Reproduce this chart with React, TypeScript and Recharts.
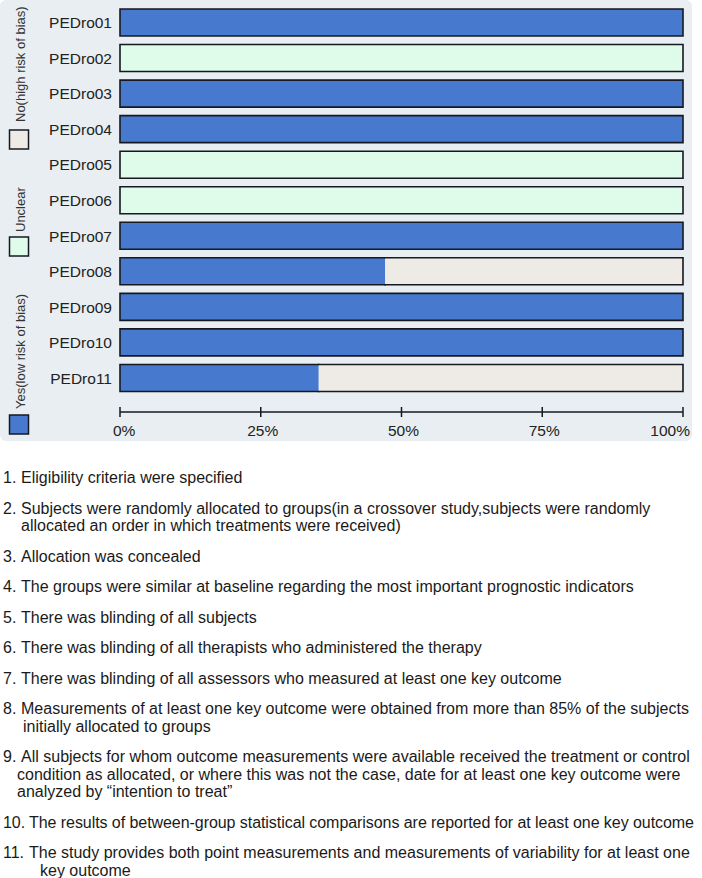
import React from 'react';
import { BarChart, Bar, XAxis, YAxis } from 'recharts';

const categories = ['PEDro01', 'PEDro02', 'PEDro03', 'PEDro04', 'PEDro05', 'PEDro06', 'PEDro07', 'PEDro08', 'PEDro09', 'PEDro10', 'PEDro11'];
const yesValues = [100, 0, 100, 100, 0, 0, 100, 47.1, 100, 100, 35.3];
const unclearValues = [0, 100, 0, 0, 100, 100, 0, 0, 0, 0, 0];
const noValues = [0, 0, 0, 0, 0, 0, 0, 52.9, 0, 0, 64.7];
const xTicks = [0, 25, 50, 75, 100];

const legendLabels = ['No(high risk of bias)', 'Unclear', 'Yes(low risk of bias)'];

const notes: { num: string; lines: string[]; indent: number[] }[] = [
  { num: '1.', lines: ['Eligibility criteria were specified'], indent: [] },
  { num: '2.', lines: ['Subjects were randomly allocated to groups(in a crossover study,subjects were randomly', 'allocated an order in which treatments were received)'], indent: [21] },
  { num: '3.', lines: ['Allocation was concealed'], indent: [] },
  { num: '4.', lines: ['The groups were similar at baseline regarding the most important prognostic indicators'], indent: [] },
  { num: '5.', lines: ['There was blinding of all subjects'], indent: [] },
  { num: '6.', lines: ['There was blinding of all therapists who administered the therapy'], indent: [] },
  { num: '7.', lines: ['There was blinding of all assessors who measured at least one key outcome'], indent: [] },
  { num: '8.', lines: ['Measurements of at least one key outcome were obtained from more than 85% of  the subjects', 'initially allocated to groups'], indent: [23] },
  { num: '9.', lines: ['All subjects for whom outcome measurements were available received the treatment or control', 'condition as allocated, or where this was not the case, date for at least one key outcome were', 'analyzed by \u201cintention to treat\u201d'], indent: [17, 17] },
  { num: '10.', lines: ['The results of between-group statistical comparisons are reported for at least one key outcome'], indent: [] },
  { num: '11.', lines: ['The study provides both point measurements and measurements of variability for at least one', 'key outcome'], indent: [40] },
];

const COLORS = { yes: '#4779CE', unclear: '#DFFBEA', no: '#EEEBE6' };
const STROKE = '#161a20';
const FONT = '"Liberation Sans", Arial, Helvetica, sans-serif';

const data = categories.map((c, i) => ({ name: c, yes: yesValues[i], unclear: unclearValues[i], no: noValues[i] }));

const order = ['yes', 'unclear', 'no'];

const makeShape = (key: string) => (props: any) => {
  const { x, y, width, height, fill, payload } = props;
  if (!width || width <= 0.01) return <g />;
  const idx = order.indexOf(key);
  const p = payload || props;
  const leftEdge = order.slice(0, idx).every((k) => !p[k]);
  const rightEdge = order.slice(idx + 1).every((k) => !p[k]);
  let d = `M${x},${y}H${x + width}M${x},${y + height}H${x + width}`;
  if (leftEdge) d += `M${x},${y}V${y + height}`;
  if (rightEdge) d += `M${x + width},${y}V${y + height}`;
  return (
    <g>
      <rect x={x} y={y} width={width} height={height} fill={fill} />
      <path d={d} stroke={STROKE} strokeWidth={1.6} fill="none" strokeLinecap="square" />
    </g>
  );
};

const XTick = (props: any) => {
  const { x, y, payload, index } = props;
  const last = index === xTicks.length - 1;
  const first = index === 0;
  const anchor = first ? 'start' : last ? 'end' : 'middle';
  const tx = first ? x - 7 : last ? x + 7 : x + 2;
  return (
    <g>
      <line x1={x} x2={x} y1={y - 5} y2={y + 5} stroke={STROKE} strokeWidth={1.5} />
      <text x={tx} y={y + 24} textAnchor={anchor} fontSize={15.5} fontFamily={FONT} fill="#222">
        {`${payload.value}%`}
      </text>
    </g>
  );
};

const legendItems = [
  { label: legendLabels[0], color: COLORS.no, textEnd: 122, boxTop: 130 },
  { label: legendLabels[1], color: COLORS.unclear, textEnd: 232, boxTop: 237 },
  { label: legendLabels[2], color: COLORS.yes, textEnd: 409, boxTop: 415 },
];

export default function App() {
  return (
    <div style={{ position: 'absolute', left: 0, top: 0, width: 702, height: 878, background: '#fff', fontFamily: FONT, overflow: 'hidden' }}>
      <div style={{ position: 'absolute', left: 0, top: 0, width: 692, height: 441, background: '#E8EEF1', borderRadius: 6 }} />
      <svg style={{ position: 'absolute', left: 0, top: 0 }} width={40} height={441}>
        {legendItems.map((it) => (
          <g key={it.label}>
            <text
              x={20.5}
              y={it.textEnd}
              transform={`rotate(-90, 20.5, ${it.textEnd})`}
              textAnchor="start"
              dominantBaseline="central"
              fontSize={13}
              fontFamily={FONT}
              fill="#333"
            >
              {it.label}
            </text>
            <rect x={9.5} y={it.boxTop} width={19} height={19} fill={it.color} stroke={STROKE} strokeWidth={1.5} />
          </g>
        ))}
      </svg>
      <div style={{ position: 'absolute', left: 0, top: 0 }}>
        <BarChart
          width={702}
          height={441}
          data={data}
          layout="vertical"
          margin={{ top: 5, right: 19, bottom: 0, left: 0 }}
        >
          <XAxis
            type="number"
            domain={[0, 100]}
            ticks={xTicks}
            height={29}
            tickSize={0}
            tickMargin={0}
            tickLine={false}
            axisLine={{ stroke: STROKE, strokeWidth: 1.5 }}
            tick={<XTick />}
            interval={0}
          />
          <YAxis
            type="category"
            dataKey="name"
            width={120}
            padding={{ top: 0, bottom: 16 }}
            axisLine={false}
            tickLine={false}
            tickSize={0}
            tickMargin={8}
            tick={{ fontSize: 15.5, fontFamily: FONT, fill: '#222' }}
            interval={0}
          />
          <Bar dataKey="yes" stackId="a" fill={COLORS.yes} barSize={27} isAnimationActive={false} shape={makeShape('yes')} />
          <Bar dataKey="unclear" stackId="a" fill={COLORS.unclear} barSize={27} isAnimationActive={false} shape={makeShape('unclear')} />
          <Bar dataKey="no" stackId="a" fill={COLORS.no} barSize={27} isAnimationActive={false} shape={makeShape('no')} />
        </BarChart>
      </div>
      <div style={{ position: 'absolute', left: 3, top: 469, fontSize: 16, color: '#1a1a1a', whiteSpace: 'nowrap' }}>
        {notes.map((n) => (
          <div key={n.num} style={{ marginBottom: 13, lineHeight: '17.5px', letterSpacing: n.num === '10.' ? '-0.06px' : undefined }}>
            <div>
              <span style={{ display: 'inline-block', width: n.num.length > 2 ? 26 : 18 }}>{n.num}</span>
              {n.lines[0]}
            </div>
            {n.lines.slice(1).map((l, j) => (
              <div key={j} style={{ paddingLeft: n.indent[j] - 3 }}>{l}</div>
            ))}
          </div>
        ))}
      </div>
    </div>
  );
}
